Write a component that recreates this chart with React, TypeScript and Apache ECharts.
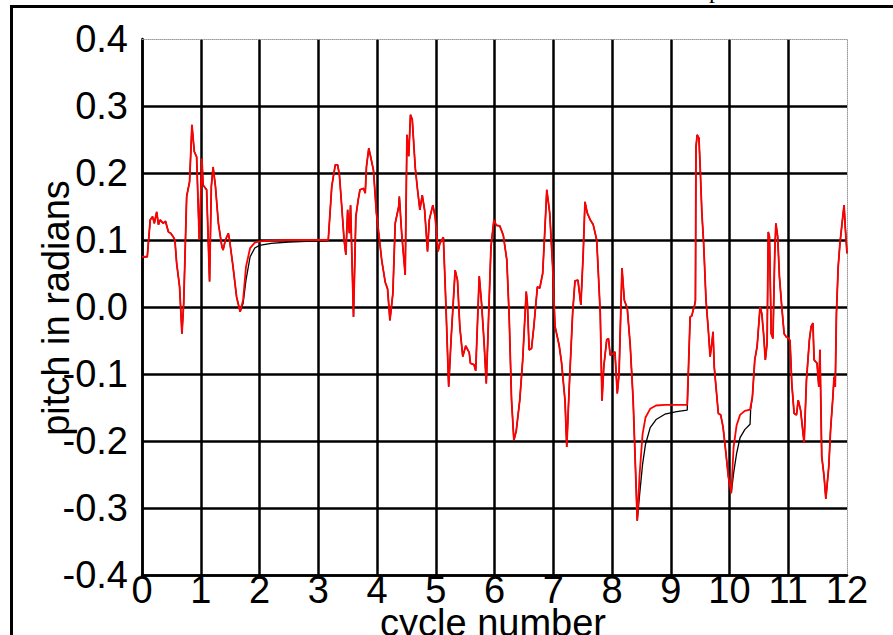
import React, { useEffect, useRef } from "react";
import * as echarts from "echarts";

const xTicks = [0, 12, 1];
const yTicks = [-0.4, 0.4, 0.1];

const cycle = [
  0.00, 0.01, 0.09, 0.14, 0.18, 0.21, 0.25, 0.28, 0.31, 0.36,
  0.40, 0.45, 0.49, 0.53, 0.56, 0.59, 0.64, 0.68, 0.71, 0.76,
  0.81, 0.85, 0.89, 0.93, 0.975, 1.02, 1.04, 1.10, 1.15, 1.18,
  1.21, 1.25, 1.30, 1.36, 1.38, 1.42, 1.47, 1.49, 1.55, 1.61,
  1.67, 1.72, 1.77, 1.84, 1.92, 2.00, 2.20, 2.50, 2.80, 3.17,
  3.23, 3.29, 3.33, 3.36, 3.40, 3.44, 3.47, 3.50, 3.53, 3.55,
  3.60, 3.64, 3.68, 3.71, 3.77, 3.80, 3.82, 3.86, 3.89, 3.94,
  3.99, 4.03, 4.08, 4.14, 4.18, 4.22, 4.27, 4.31, 4.37, 4.38,
  4.42, 4.48, 4.51, 4.54, 4.57, 4.60, 4.65, 4.69, 4.73, 4.77,
  4.81, 4.86, 4.89, 4.95, 4.99, 5.04, 5.07, 5.13, 5.17, 5.22,
  5.26, 5.33, 5.37, 5.41, 5.46, 5.51, 5.57, 5.59, 5.65, 5.68,
  5.74, 5.78, 5.82, 5.86, 5.89, 5.94, 5.99, 6.03, 6.09, 6.15,
  6.21, 6.25, 6.29, 6.33, 6.37, 6.43, 6.48, 6.54, 6.56, 6.59,
  6.63, 6.67, 6.73, 6.77, 6.82, 6.86, 6.89, 6.94, 6.99, 7.03,
  7.10, 7.14, 7.20, 7.23, 7.27, 7.33, 7.37, 7.42, 7.47, 7.51,
  7.54, 7.58, 7.63, 7.68, 7.74, 7.80, 7.83, 7.86, 7.91, 7.94,
  7.97, 8.01, 8.05, 8.09, 8.12, 8.17, 8.21, 8.26, 8.31, 8.36,
  8.43, 8.47, 8.52, 8.57, 8.65, 8.75, 8.90, 9.10, 9.28, 9.33,
  9.36, 9.38, 9.40, 9.42, 9.43, 9.45, 9.48, 9.50, 9.53, 9.56,
  9.60, 9.64, 9.67, 9.70, 9.72, 9.74, 9.77, 9.81, 9.85, 9.89,
  9.94, 9.98, 10.03, 10.07, 10.12, 10.18, 10.26, 10.35, 10.36, 10.39,
  10.43, 10.47, 10.52, 10.55, 10.58, 10.61, 10.64, 10.66, 10.68, 10.71,
  10.74, 10.77, 10.79, 10.82, 10.85, 10.89, 10.93, 10.97, 11.00, 11.03,
  11.06, 11.10, 11.14, 11.17, 11.21, 11.27, 11.31, 11.36, 11.39, 11.42,
  11.44, 11.49, 11.52, 11.54, 11.57, 11.61, 11.64, 11.69, 11.72, 11.76,
  11.78, 11.80, 11.82, 11.85, 11.88, 11.91, 11.95, 11.97, 12.00,
];

const redPitch = [
  0.075, 0.075, 0.075, 0.130, 0.135, 0.125, 0.142, 0.123, 0.130, 0.125,
  0.128, 0.112, 0.110, 0.105, 0.100, 0.065, 0.030, -0.040, 0.006, 0.165,
  0.187, 0.272, 0.232, 0.224, 0.100, 0.222, 0.182, 0.175, 0.038, 0.180,
  0.209, 0.180, 0.125, 0.090, 0.085, 0.100, 0.110, 0.100, 0.060, 0.015,
  -0.007, 0.010, 0.060, 0.088, 0.096, 0.098, 0.099, 0.100, 0.100, 0.100,
  0.180, 0.212, 0.212, 0.197, 0.150, 0.100, 0.078, 0.145, 0.110, 0.152,
  -0.015, 0.135, 0.160, 0.175, 0.177, 0.170, 0.209, 0.237, 0.225, 0.204,
  0.140, 0.110, 0.070, 0.037, 0.027, -0.020, 0.020, 0.125, 0.150, 0.165,
  0.110, 0.048, 0.257, 0.225, 0.287, 0.280, 0.209, 0.175, 0.145, 0.167,
  0.145, 0.083, 0.130, 0.152, 0.135, 0.083, 0.095, 0.104, 0.010, -0.119,
  -0.050, 0.055, 0.040, -0.030, -0.074, -0.058, -0.068, -0.084, -0.086, -0.095,
  0.046, 0.005, -0.049, -0.114, -0.040, 0.090, 0.130, 0.122, 0.121, 0.107,
  0.070, -0.015, -0.139, -0.199, -0.185, -0.139, -0.079, 0.023, 0.005, -0.064,
  -0.062, -0.029, 0.030, 0.028, 0.050, 0.120, 0.175, 0.140, 0.060, -0.029,
  -0.057, -0.082, -0.139, -0.209, -0.124, -0.009, 0.039, 0.040, 0.003, 0.080,
  0.157, 0.140, 0.130, 0.123, 0.100, -0.009, -0.140, -0.089, -0.049, -0.047,
  -0.072, -0.070, -0.067, -0.129, -0.100, 0.058, 0.010, -0.002, -0.057, -0.139,
  -0.319, -0.250, -0.190, -0.165, -0.152, -0.147, -0.146, -0.146, -0.146, -0.015,
  -0.013, -0.005, 0.000, 0.010, 0.239, 0.257, 0.252, 0.210, 0.140, 0.095,
  0.010, -0.035, -0.074, -0.054, -0.037, -0.089, -0.119, -0.159, -0.161, -0.179,
  -0.219, -0.253, -0.278, -0.209, -0.177, -0.161, -0.155, -0.153, -0.153, -0.134,
  -0.079, -0.059, 0.000, -0.010, -0.040, -0.079, -0.054, 0.112, 0.105, -0.040,
  -0.047, 0.080, 0.125, 0.105, 0.045, 0.000, -0.040, -0.045, -0.046, -0.050,
  -0.114, -0.159, -0.161, -0.139, -0.154, -0.203, -0.109, -0.049, -0.029, -0.024,
  -0.079, -0.084, -0.119, -0.064, -0.223, -0.253, -0.286, -0.238, -0.184, -0.134,
  -0.104, -0.119, -0.010, 0.060, 0.095, 0.120, 0.152, 0.120, 0.080,
];

const blackPitch = [
  0.000, 0.075, 0.075, 0.130, 0.135, 0.125, 0.142, 0.123, 0.130, 0.125,
  0.128, 0.112, 0.110, 0.105, 0.100, 0.065, 0.030, -0.040, 0.006, 0.165,
  0.187, 0.272, 0.232, 0.224, 0.100, 0.222, 0.182, 0.175, 0.038, 0.180,
  0.209, 0.180, 0.125, 0.090, 0.085, 0.100, 0.110, 0.100, 0.060, 0.015,
  -0.007, 0.005, 0.040, 0.075, 0.088, 0.092, 0.095, 0.097, 0.098, 0.099,
  0.180, 0.212, 0.212, 0.197, 0.150, 0.100, 0.078, 0.145, 0.110, 0.152,
  -0.015, 0.135, 0.160, 0.175, 0.177, 0.170, 0.209, 0.237, 0.225, 0.204,
  0.140, 0.110, 0.070, 0.037, 0.027, -0.020, 0.020, 0.125, 0.150, 0.165,
  0.110, 0.048, 0.257, 0.225, 0.287, 0.280, 0.209, 0.175, 0.145, 0.167,
  0.145, 0.083, 0.130, 0.152, 0.135, 0.083, 0.095, 0.104, 0.010, -0.119,
  -0.050, 0.055, 0.040, -0.030, -0.074, -0.058, -0.068, -0.084, -0.086, -0.095,
  0.046, 0.005, -0.049, -0.114, -0.040, 0.090, 0.130, 0.122, 0.121, 0.107,
  0.070, -0.015, -0.139, -0.199, -0.185, -0.139, -0.079, 0.023, 0.005, -0.064,
  -0.062, -0.029, 0.030, 0.028, 0.050, 0.120, 0.175, 0.140, 0.060, -0.029,
  -0.057, -0.082, -0.139, -0.209, -0.124, -0.009, 0.039, 0.040, 0.003, 0.080,
  0.157, 0.140, 0.130, 0.123, 0.100, -0.009, -0.140, -0.089, -0.049, -0.047,
  -0.072, -0.070, -0.067, -0.129, -0.100, 0.058, 0.010, -0.002, -0.057, -0.139,
  -0.319, -0.280, -0.235, -0.205, -0.180, -0.168, -0.160, -0.156, -0.154, -0.015,
  -0.013, -0.005, 0.000, 0.010, 0.239, 0.257, 0.252, 0.210, 0.140, 0.095,
  0.010, -0.035, -0.074, -0.054, -0.037, -0.089, -0.119, -0.159, -0.161, -0.179,
  -0.219, -0.253, -0.278, -0.248, -0.219, -0.195, -0.183, -0.175, -0.153, -0.134,
  -0.079, -0.059, 0.000, -0.010, -0.040, -0.079, -0.054, 0.112, 0.105, -0.040,
  -0.047, 0.080, 0.125, 0.105, 0.045, 0.000, -0.040, -0.045, -0.046, -0.050,
  -0.114, -0.159, -0.161, -0.139, -0.154, -0.203, -0.109, -0.049, -0.029, -0.024,
  -0.079, -0.084, -0.119, -0.064, -0.223, -0.253, -0.286, -0.238, -0.184, -0.134,
  -0.104, -0.119, -0.010, 0.060, 0.095, 0.120, 0.152, 0.120, 0.080,
];

const xName = "cycle number";
const yName = "pitch in radians";
const topText = "p";

const FONT = "'Liberation Sans', Arial, Helvetica, sans-serif";

export default function App() {
  const ref = useRef<HTMLDivElement>(null);
  useEffect(() => {
    if (!ref.current) return;
    const chart = echarts.init(ref.current, null, { renderer: "svg" });
    const pairs = (ys: number[]) => cycle.map((x, i) => [x, ys[i]]);
    const hiddenAxis = {
      show: true,
      axisLine: { show: true, onZero: false, lineStyle: { color: "#9a9a9a", width: 1, type: "dotted" } },
      axisTick: { show: false },
      axisLabel: { show: false },
      splitLine: { show: false },
    };
    chart.setOption({
      animation: false,
      backgroundColor: "#ffffff",
      grid: { left: 142, right: 46, top: 39, bottom: 60, containLabel: false },
      xAxis: [
        {
          type: "value",
          min: xTicks[0],
          max: xTicks[1],
          interval: xTicks[2],
          axisLine: { show: true, onZero: false, lineStyle: { color: "#000", width: 2.5 } },
          axisTick: { show: false },
          axisLabel: {
            color: "#000",
            fontFamily: FONT,
            fontSize: 38,
            margin: -4,
            showMaxLabel: true,
            showMinLabel: true,
          },
          splitLine: { show: true, showMaxLine: false, lineStyle: { color: "#000", width: 2.5 } },
        },
        {
          ...hiddenAxis,
          type: "value",
          position: "top",
          min: xTicks[0],
          max: xTicks[1],
          interval: xTicks[2],
        },
      ],
      yAxis: [
        {
          type: "value",
          min: yTicks[0],
          max: yTicks[1],
          interval: yTicks[2],
          axisLine: { show: true, onZero: false, lineStyle: { color: "#000", width: 2.5 } },
          axisTick: { show: false },
          axisLabel: {
            color: "#000",
            fontFamily: FONT,
            fontSize: 38,
            margin: 14,
            formatter: (v: number) => v.toFixed(1),
          },
          splitLine: { show: true, showMaxLine: false, lineStyle: { color: "#000", width: 2.5 } },
        },
        {
          ...hiddenAxis,
          type: "value",
          position: "right",
          min: yTicks[0],
          max: yTicks[1],
          interval: yTicks[2],
        },
      ],
      series: [
        {
          type: "line",
          name: "black",
          data: pairs(blackPitch),
          showSymbol: false,
          symbol: "none",
          lineStyle: { color: "#000000", width: 1.3 },
          z: 3,
        },
        {
          type: "line",
          name: "red",
          data: pairs(redPitch),
          showSymbol: false,
          symbol: "none",
          lineStyle: { color: "#ff0000", width: 1.8 },
          z: 4,
        },
      ],
      graphic: [
        { type: "line", shape: { x1: 10, y1: 6.5, x2: 893, y2: 6.5 }, style: { stroke: "#000", lineWidth: 3 } },
        { type: "line", shape: { x1: 11.5, y1: 5, x2: 11.5, y2: 635 }, style: { stroke: "#000", lineWidth: 3 } },
        {
          type: "text",
          x: 709,
          y: -10,
          style: { text: topText, font: "24px 'Liberation Serif', 'Times New Roman', serif", fill: "#000", textAlign: "left", textVerticalAlign: "middle" },
        },
        {
          type: "text",
          x: 56,
          y: 308,
          rotation: Math.PI / 2,
          style: { text: yName, font: `38px ${FONT}`, fill: "#000", textAlign: "center", textVerticalAlign: "middle" },
          z: 10,
        },
        {
          type: "text",
          x: 493,
          y: 623,
          style: { text: xName, font: `38px ${FONT}`, fill: "#000", textAlign: "center", textVerticalAlign: "middle" },
          z: 10,
        },
      ],
    });
    return () => chart.dispose();
  }, []);
  return (
    <div
      ref={ref}
      style={{ position: "fixed", left: 0, top: 0, width: 893, height: 635, background: "#fff" }}
    />
  );
}
